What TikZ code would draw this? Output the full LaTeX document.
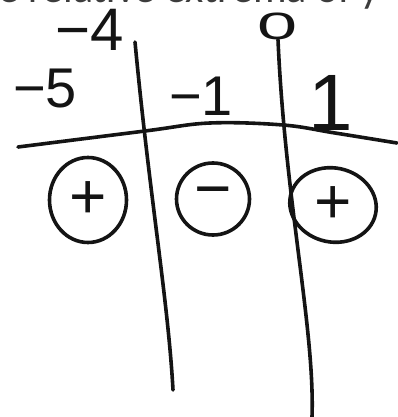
\documentclass[tikz,border=0pt]{standalone}
\usepackage{fontspec}
\setmainfont{Liberation Sans}
\newfontfamily\headfont{Carlito}
\usetikzlibrary{shapes.geometric}
\definecolor{ink}{RGB}{20,20,20}
\definecolor{slate}{RGB}{60,60,60}
\tikzset{
  pen/.style={draw=ink,line width=3.6pt,line cap=round,line join=round},
  num/.style={font=\fontsize{56}{60}\selectfont,text=ink,inner sep=0pt},
  sign/.style={ellipse,draw=ink,line width=3.6pt,inner sep=0pt,
    font=\fontsize{64}{68}\selectfont,text=ink},
  head/.style={font=\headfont\fontsize{42}{44}\selectfont,text=slate,inner sep=0pt},
}
\begin{document}
\begin{tikzpicture}[x=1pt,y=-1pt]
  \useasboundingbox (0,0) rectangle (397,417);
  \begin{scope}
    \clip (0,0) rectangle (397,417);
    \node[head,anchor=base west] (title) at (-2,3) {e relative extrema of y};
  \end{scope}
  % labels above the line
  \node[num,font=\fontsize{60}{64}\selectfont] (mfour) at (90,30) {−4};
  \node[num,font=\fontsize{40}{44}\selectfont] (zero) at (278,26) {\scalebox{1.8}[0.95]{0}};
  \node[num] (mfive) at (45,89) {−5};
  \node[num] (mone) at (201,96) {−1};
  \node[num,font=\fontsize{80}{84}\selectfont] (one) at (331,103) {1};
  % sign circles
  \node[sign,minimum width=77pt,minimum height=85pt] (signA) at (88,200) {+};
  \node[sign,minimum width=73pt,minimum height=72pt] (signB) at (213,199) {−};
  \node[sign,minimum width=87pt,minimum height=74pt,rotate=-12] (signC) at (333,205) {\rotatebox{12}{+}};
  % number line and splits
  \coordinate (hL) at (18,147);
  \coordinate (hR) at (397,143);
  \coordinate (aTop) at (135,42);
  \coordinate (aBot) at (173,390);
  \coordinate (bBot) at (312,417);
  \draw[pen] plot[smooth,tension=0.6] coordinates {(hL) (145,131) (210,123) (283,125) (335,133) (hR)};
  \draw[pen] (aTop) .. controls (150,200) and (168,300) .. (aBot);
  \draw[pen] (zero.south) .. controls (285,200) and (315,330) .. (bBot);
\end{tikzpicture}
\end{document}
